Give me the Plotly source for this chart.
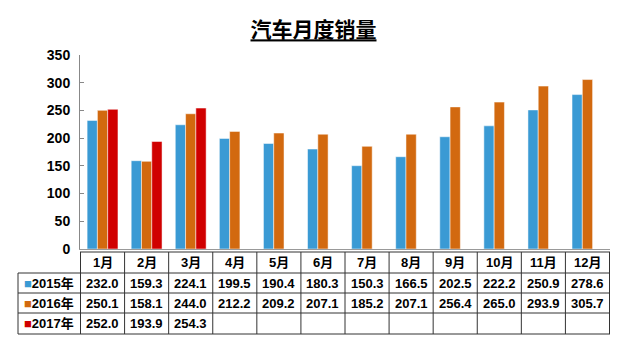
import plotly.graph_objects as go

# Monthly vehicle sales (10k units)
months = ["1月", "2月", "3月", "4月", "5月", "6月", "7月", "8月", "9月", "10月", "11月", "12月"]
series_names = ["2015年", "2016年", "2017年"]
sales_2015 = [232.0, 159.3, 224.1, 199.5, 190.4, 180.3, 150.3, 166.5, 202.5, 222.2, 250.9, 278.6]
sales_2016 = [250.1, 158.1, 244.0, 212.2, 209.2, 207.1, 185.2, 207.1, 256.4, 265.0, 293.9, 305.7]
sales_2017 = [252.0, 193.9, 254.3, None, None, None, None, None, None, None, None, None]
y_ticks = [0, 50, 100, 150, 200, 250, 300, 350]

colors = ["#3A9AD4", "#D2690F", "#D00000"]
all_series = [sales_2015, sales_2016, sales_2017]

W, H = 627, 343
M_L, M_R, M_T, M_B = 80, 17, 55, 94
PLOT_W = W - M_L - M_R
PLOT_H = H - M_T - M_B
PLOT_BOTTOM = H - M_B

FONT = "Liberation Sans, Arial, Noto Sans CJK SC, sans-serif"


def px_y(p):
    """Pixel row -> paper y."""
    return (PLOT_BOTTOM - p) / PLOT_H


def px_x(p):
    """Pixel column -> paper x."""
    return (p - M_L) / PLOT_W


fig = go.Figure()
for name, vals, col in zip(series_names, all_series, colors):
    fig.add_trace(go.Bar(
        x=months, y=vals, name=name,
        marker=dict(color=col, line=dict(color="white", width=0.5)),
    ))

# Data table under the bars
row_edges = [252, 273, 293, 313, 334]
label_left = 18
line_style = dict(color="#333333", width=1)
shapes = []
# horizontal rules
shapes.append(dict(type="line", xref="paper", yref="paper",
                   x0=0, x1=1, y0=px_y(row_edges[0]), y1=px_y(row_edges[0]), line=line_style))
for e in row_edges[1:]:
    shapes.append(dict(type="line", xref="paper", yref="paper",
                       x0=px_x(label_left), x1=1, y0=px_y(e), y1=px_y(e), line=line_style))
# vertical rules
shapes.append(dict(type="line", xref="paper", yref="paper",
                   x0=px_x(label_left), x1=px_x(label_left),
                   y0=px_y(row_edges[1]), y1=px_y(row_edges[-1]), line=line_style))
for i in range(len(months) + 1):
    shapes.append(dict(type="line", xref="x", yref="paper",
                       x0=i - 0.5, x1=i - 0.5,
                       y0=px_y(row_edges[0]), y1=px_y(row_edges[-1]), line=line_style))

cell_font = dict(family=FONT, size=13, color="black")
annotations = []
header_mid = px_y((row_edges[0] + row_edges[1]) / 2)
for m in months:
    annotations.append(dict(x=m, y=header_mid, xref="x", yref="paper",
                            text="<b>%s</b>" % m, showarrow=False,
                            font=cell_font, xanchor="center", yanchor="middle"))
for r, (name, vals, col) in enumerate(zip(series_names, all_series, colors)):
    mid = px_y((row_edges[r + 1] + row_edges[r + 2]) / 2)
    annotations.append(dict(x=px_x((label_left + M_L) / 2), y=mid, xref="paper", yref="paper",
                            text="<span style='color:%s'>■</span><b>%s</b>" % (col, name),
                            showarrow=False, font=cell_font, xanchor="center", yanchor="middle"))
    for m, v in zip(months, vals):
        if v is None:
            continue
        annotations.append(dict(x=m, y=mid, xref="x", yref="paper",
                                text="<b>%.1f</b>" % v, showarrow=False,
                                font=cell_font, xanchor="center", yanchor="middle"))

fig.update_layout(
    width=W, height=H,
    margin=dict(l=M_L, r=M_R, t=M_T, b=M_B),
    paper_bgcolor="white", plot_bgcolor="white",
    barmode="group", bargap=0.3, bargroupgap=0,
    showlegend=False,
    title=dict(text="<b>汽车月度销量</b>", x=0.5, xref="container", xanchor="center",
               y=1 - 30 / H, yref="container", yanchor="middle",
               font=dict(family="Noto Sans CJK SC, sans-serif", size=21, color="black",
                         lineposition="under")),
    xaxis=dict(showticklabels=False, showline=True, linecolor="#999999", linewidth=1,
               ticks="", showgrid=False, zeroline=False),
    yaxis=dict(range=[0, 350], tickvals=y_ticks, showline=True, linecolor="#888888",
               linewidth=1, ticks="inside", ticklen=4, tickcolor="#888888",
               showgrid=False, zeroline=False, ticklabelstandoff=6,
               tickfont=dict(family=FONT, size=14, color="black", weight="bold")),
    shapes=shapes,
    annotations=annotations,
)

fig.write_html("out.html")
